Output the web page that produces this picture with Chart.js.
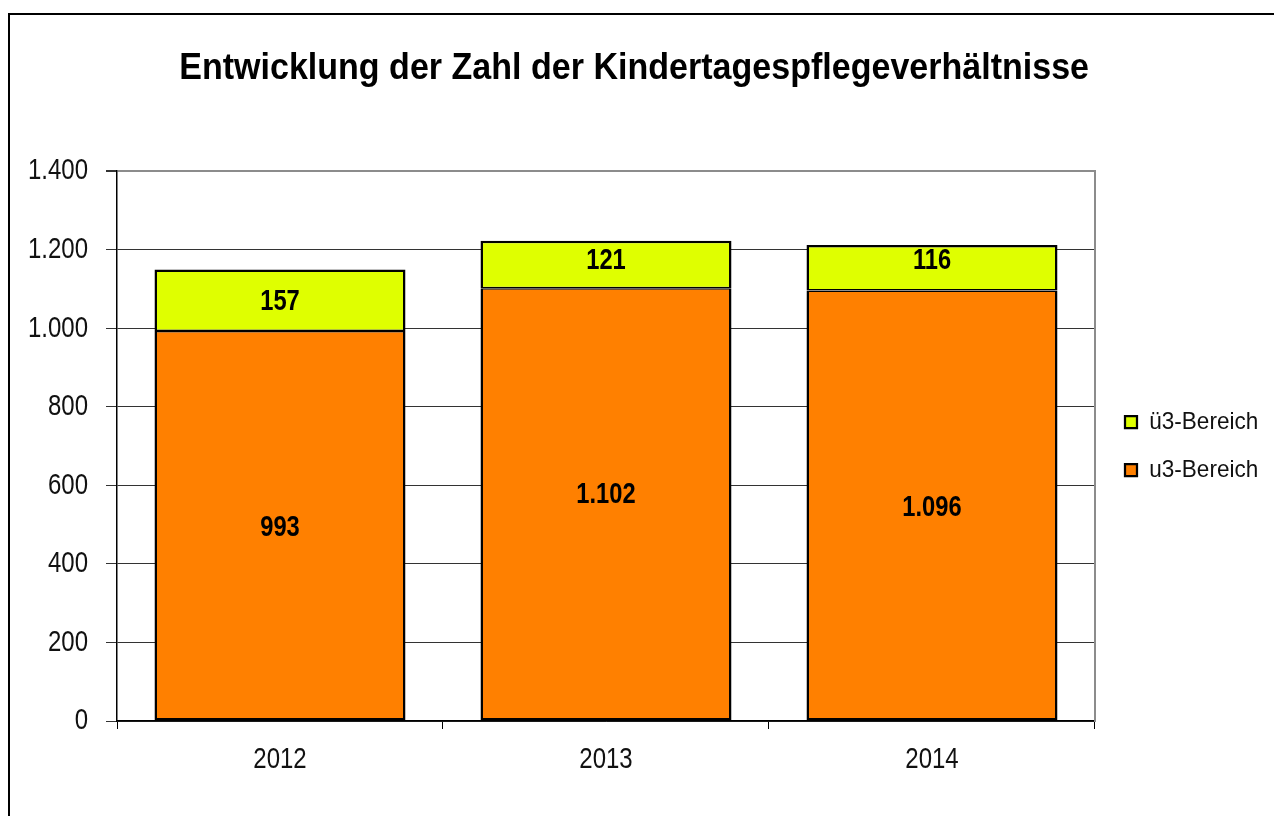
<!DOCTYPE html>
<html>
<head>
<meta charset="utf-8">
<title>Kindertagespflegeverhältnisse</title>
<script src="https://cdn.jsdelivr.net/npm/chart.js@4.4.1/dist/chart.umd.min.js"></script>
<style>
  html, body { margin: 0; padding: 0; background: #fff; }
  #wrap { position: relative; width: 1274px; height: 816px; overflow: hidden; }
  #frame { position: absolute; left: 8px; top: 13px; right: -10px; bottom: -10px;
           border-left: 2px solid #000; border-top: 2px solid #000; }
  #chart { position: absolute; left: 0; top: 0; }
</style>
</head>
<body>
<div id="wrap">
  <div id="frame"></div>
  <canvas id="chart" width="1274" height="816"></canvas>
</div>
<script>
// data
const years = ["2012", "2013", "2014"];
const u3Values = [993, 1102, 1096];
const ue3Values = [157, 121, 116];
const yTicks = [0, 200, 400, 600, 800, 1000, 1200, 1400];

// no Arial Narrow here: a fake first family "SqueezeNN" makes the text
// fall back to Liberation Sans and get squeezed to NN% width below
const tickFont = "Squeeze80, 'Liberation Sans', Arial, sans-serif";
const valueFont = "Squeeze79, 'Liberation Sans', Arial, sans-serif";
const titleFont = "Squeeze92, 'Liberation Sans', Arial, sans-serif";

// some labels sit off-centre in the original (px, "dataset-bar")
const labelNudge = { "0-1": -12, "1-1": -6, "1-2": -9 };

function fmt(v) {
  return String(v).replace(/\B(?=(\d{3})+(?!\d))/g, ".");
}

function squeezeOf(font) {
  const m = /Squeeze(\d+)/.exec(font);
  return m ? m[1] / 100 : 1;
}

function squeezeText(ctx) {
  const rawFill = ctx.fillText.bind(ctx);
  const rawMeasure = ctx.measureText.bind(ctx);
  ctx.fillText = function (text, x, y, maxWidth) {
    const s = squeezeOf(this.font);
    if (s === 1) {
      return maxWidth === undefined ? rawFill(text, x, y) : rawFill(text, x, y, maxWidth);
    }
    this.save();
    this.translate(x, y);
    this.scale(s, 1);
    rawFill(text, 0, 0);
    this.restore();
  };
  ctx.measureText = function (text) {
    const m = rawMeasure(text);
    const s = squeezeOf(this.font);
    if (s === 1) return m;
    return {
      width: m.width * s,
      actualBoundingBoxLeft: m.actualBoundingBoxLeft * s,
      actualBoundingBoxRight: m.actualBoundingBoxRight * s,
      actualBoundingBoxAscent: m.actualBoundingBoxAscent,
      actualBoundingBoxDescent: m.actualBoundingBoxDescent
    };
  };
}

// values written in the middle of each segment
const segmentLabels = {
  id: "segmentLabels",
  afterDatasetsDraw(chart) {
    const ctx = chart.ctx;
    ctx.save();
    ctx.font = "bold 30px " + valueFont;
    ctx.fillStyle = "#000";
    ctx.textAlign = "center";
    ctx.textBaseline = "middle";
    chart.data.datasets.forEach((ds, i) => {
      chart.getDatasetMeta(i).data.forEach((bar, j) => {
        const p = bar.getProps(["x", "y", "base"], true);
        const dy = labelNudge[i + "-" + j] || 0;
        ctx.fillText(fmt(ds.data[j]), p.x, (p.y + p.base) / 2 + 2 + dy);
      });
    });
    ctx.restore();
  }
};

const ctx = document.getElementById("chart").getContext("2d");
squeezeText(ctx);

new Chart(ctx, {
  type: "bar",
  data: {
    labels: years,
    datasets: [
      {
        label: "u3-Bereich",
        data: u3Values,
        backgroundColor: "#FF8000",
        borderColor: "#000",
        borderWidth: { top: 1.5, left: 2.5, right: 2.5, bottom: 2.5 },
        borderSkipped: false,
        barPercentage: 0.77,
        categoryPercentage: 1
      },
      {
        label: "ü3-Bereich",
        data: ue3Values,
        backgroundColor: "#DFFF00",
        borderColor: "#000",
        borderWidth: { top: 2.5, left: 2.5, right: 2.5, bottom: 1.5 },
        borderSkipped: false,
        barPercentage: 0.77,
        categoryPercentage: 1
      }
    ]
  },
  options: {
    responsive: false,
    devicePixelRatio: 1,
    animation: false,
    layout: { padding: { left: 0, right: 5.75, top: 0, bottom: 38 } },
    plugins: {
      title: {
        display: true,
        text: "Entwicklung der Zahl der Kindertagespflegeverhältnisse",
        color: "#000",
        font: { family: titleFont, size: 37, weight: "bold" },
        padding: { top: 47, bottom: 79.8 }
      },
      legend: {
        position: "right",
        fullSize: false,
        reverse: true,
        labels: {
          color: "#111",
          font: { family: titleFont, size: 24.5 },
          boxWidth: 12,
          boxHeight: 12,
          padding: 23.5
        }
      },
      tooltip: { enabled: false }
    },
    scales: {
      x: {
        stacked: true,
        grid: {
          offset: true,
          color: "transparent",
          tickColor: "#000",
          tickLength: 8,
          lineWidth: 1
        },
        border: { color: "#000", width: 1.5 },
        ticks: {
          color: "#111",
          font: { family: tickFont, size: 30 },
          padding: 13
        },
        afterFit: s => { s.height = 57; }
      },
      y: {
        stacked: true,
        min: 0,
        max: 1400,
        afterBuildTicks: s => { s.ticks = yTicks.map(v => ({ value: v })); },
        grid: {
          color: c => c.tick && c.tick.value === 1400 ? "#8c8c8c" : "#333",
          lineWidth: c => c.tick && c.tick.value === 1400 ? 2 : 1,
          tickColor: "#333",
          tickLength: 11
        },
        border: { color: "#000", width: 1.5 },
        ticks: {
          color: "#111",
          font: { family: tickFont, size: 30 },
          padding: 18,
          callback: v => fmt(v)
        },
        afterFit: s => { s.width = 117; }
      },
      y2: {
        position: "right",
        display: true,
        grid: { drawOnChartArea: false, drawTicks: false },
        border: { color: "#8c8c8c", width: 2 },
        ticks: { display: false },
        afterFit: s => { s.width = 6.5; }
      }
    }
  },
  plugins: [segmentLabels]
});
</script>
</body>
</html>
